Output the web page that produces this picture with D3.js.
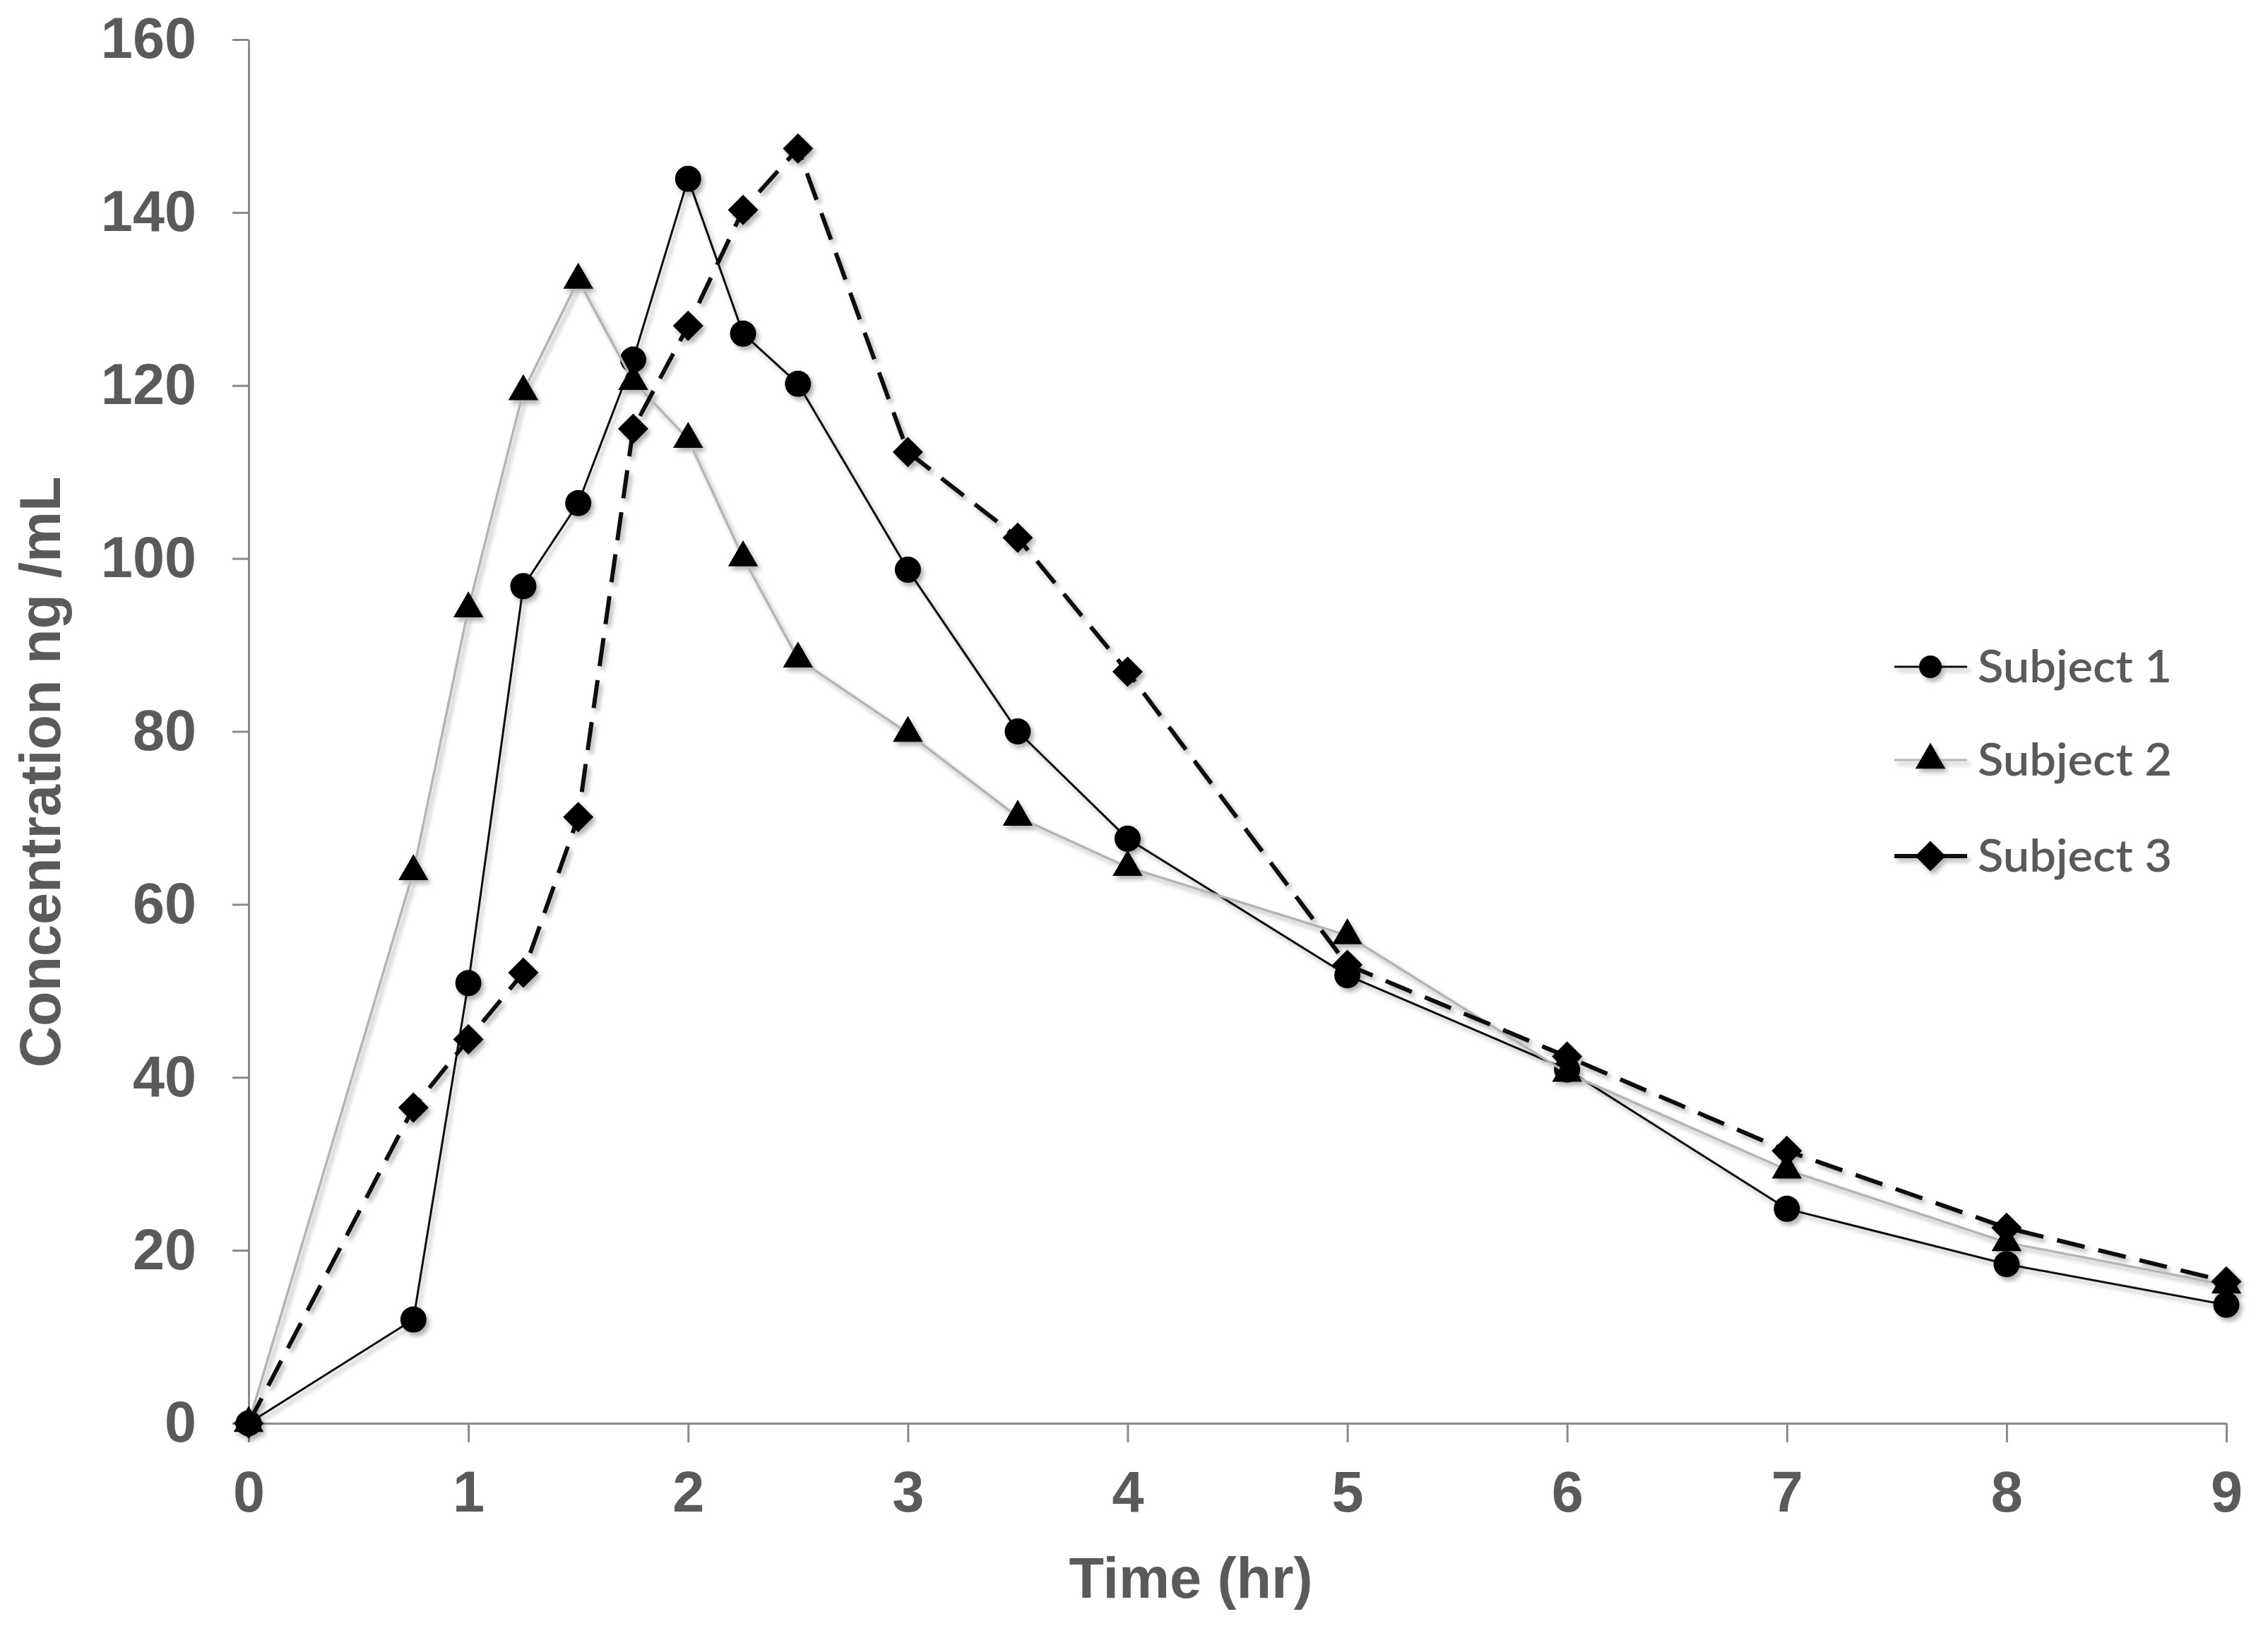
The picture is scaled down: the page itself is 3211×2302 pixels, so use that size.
<!DOCTYPE html>
<html>
<head>
<meta charset="utf-8">
<script src="https://cdn.jsdelivr.net/npm/d3@7"></script>
<style>
  body { margin: 0; background: #fff; }
  svg { display: block; }
</style>
</head>
<body>
<div id="chart"></div>
<script>
// data
const times = [0, 0.75, 1, 1.25, 1.5, 1.75, 2, 2.25, 2.5, 3, 3.5, 4, 5, 6, 7, 8, 9];
const subject1 = [0, 12.0, 50.9, 96.8, 106.4, 123.0, 143.9, 126.0, 120.2, 98.7, 80.0, 67.6, 51.8, 40.9, 24.8, 18.4, 13.7];
const subject2 = [0, 63.8, 94.2, 119.3, 132.2, 120.5, 113.8, 100.1, 88.4, 79.8, 70.1, 64.3, 56.4, 40.5, 29.3, 20.9, 16.0];
const subject3 = [0, 36.5, 44.4, 52.1, 70.1, 115.0, 126.9, 140.3, 147.4, 112.3, 102.4, 86.9, 53.0, 42.4, 31.5, 22.6, 16.4];
const seriesNames = ["Subject 1", "Subject 2", "Subject 3"];
const xTicks = [0, 1, 2, 3, 4, 5, 6, 7, 8, 9];
const yTicks = [0, 20, 40, 60, 80, 100, 120, 140, 160];

const W = 3211, H = 2302;
const margin = {top: 56, left: 352, right: 59, bottom: 287};
const width = W - margin.left - margin.right,
    height = H - margin.top - margin.bottom;

const svg = d3.select("#chart")
    .append("svg")
    .attr("width", W)
    .attr("height", H);

const defs = svg.append("defs");
defs.append("filter")
    .attr("id", "shadow")
    .attr("x", "-10%").attr("y", "-10%")
    .attr("width", "120%").attr("height", "120%")
    .append("feDropShadow")
    .attr("dx", 4).attr("dy", 5)
    .attr("stdDeviation", 3)
    .attr("flood-color", "#000")
    .attr("flood-opacity", 0.3);

const gr = svg.append("g")
    .attr("transform", `translate(${margin.left},${margin.top})`);

const xScale = d3.scaleLinear().domain([0, 9]).range([0, width]);
const yScale = d3.scaleLinear().domain([0, 160]).range([height, 0]);

const axisColor = "#8a8a8a";
const labelColor = "#5a5a5a";

// axes
const xAxGr = gr.append("g")
    .attr("transform", `translate(0,${height})`)
    .call(d3.axisBottom(xScale).tickValues(xTicks).tickSize(27).tickPadding(40).tickSizeOuter(0));

const yAxGr = gr.append("g")
    .call(d3.axisLeft(yScale).tickValues(yTicks).tickSize(23).tickPadding(51).tickSizeOuter(0));

[xAxGr, yAxGr].forEach(a => {
    a.select(".domain").attr("stroke", axisColor).attr("stroke-width", 3);
    a.selectAll(".tick line").attr("stroke", axisColor).attr("stroke-width", 3);
    a.selectAll(".tick text")
        .attr("fill", labelColor)
        .style("font-family", "'Liberation Sans', Arial, sans-serif")
        .style("font-weight", "bold")
        .style("font-size", "81px");
});

// axis titles
svg.append("text")
    .attr("transform", "translate(85,1093) rotate(-90)")
    .attr("text-anchor", "middle")
    .attr("fill", labelColor)
    .style("font-family", "'Liberation Sans', Arial, sans-serif")
    .style("font-weight", "bold")
    .style("font-size", "81px")
    .text("Concentration ng /mL");

svg.append("text")
    .attr("x", 1686)
    .attr("y", 2262)
    .attr("text-anchor", "middle")
    .attr("fill", labelColor)
    .style("font-family", "'Liberation Sans', Arial, sans-serif")
    .style("font-weight", "bold")
    .style("font-size", "81px")
    .text("Time (hr)");

// series styles
const styles = [
    {values: subject1, stroke: "#111", width: 3, dash: null, symbol: d3.symbolCircle, size: 1075, rotate: 0},
    {values: subject2, stroke: "#b4b4b4", width: 3.5, dash: null, symbol: d3.symbolTriangle, size: 780, rotate: 0},
    {values: subject3, stroke: "#111", width: 6, dash: "40,20", symbol: d3.symbolSquare, size: 925, rotate: 45}
];

const line = d3.line()
    .x(d => xScale(d[0]))
    .y(d => yScale(d[1]));

const plot = gr.append("g").attr("filter", "url(#shadow)");

styles.forEach((s, i) => {
    const pts = times.map((t, j) => [t, s.values[j]]);
    const g = plot.append("g").attr("class", "series s" + i);
    g.append("path")
        .datum(pts)
        .attr("d", line)
        .attr("fill", "none")
        .attr("stroke", s.stroke)
        .attr("stroke-width", s.width)
        .attr("stroke-dasharray", s.dash)
        .attr("stroke-linejoin", "round");
    g.selectAll(".marker")
        .data(pts)
        .join("path")
        .attr("class", "marker")
        .attr("d", d3.symbol().type(s.symbol).size(s.size))
        .attr("transform", d => `translate(${xScale(d[0])},${yScale(d[1])}) rotate(${s.rotate})`)
        .attr("fill", "#000");
});

// legend
const legendY = [944, 1076, 1212];
const legend = svg.append("g").attr("filter", "url(#shadow)");
styles.forEach((s, i) => {
    const lg = legend.append("g").attr("transform", `translate(0,${legendY[i]})`);
    lg.append("line")
        .attr("x1", 2682).attr("x2", 2785)
        .attr("stroke", s.stroke)
        .attr("stroke-width", i === 2 ? 6 : 3);
    lg.append("path")
        .attr("d", d3.symbol().type(s.symbol).size(i === 0 ? 800 : s.size))
        .attr("transform", `translate(2733,0) rotate(${s.rotate})`)
        .attr("fill", "#000");
});
svg.append("g").selectAll("text")
    .data(seriesNames)
    .join("text")
    .attr("x", 2800)
    .attr("y", (d, i) => legendY[i] + 22)
    .attr("fill", labelColor)
    .attr("textLength", 275)
    .attr("lengthAdjust", "spacingAndGlyphs")
    .style("font-family", "Lato, 'Open Sans', sans-serif")
    .style("font-weight", "600")
    .style("font-size", "64px")
    .text(d => d);
</script>
</body>
</html>
